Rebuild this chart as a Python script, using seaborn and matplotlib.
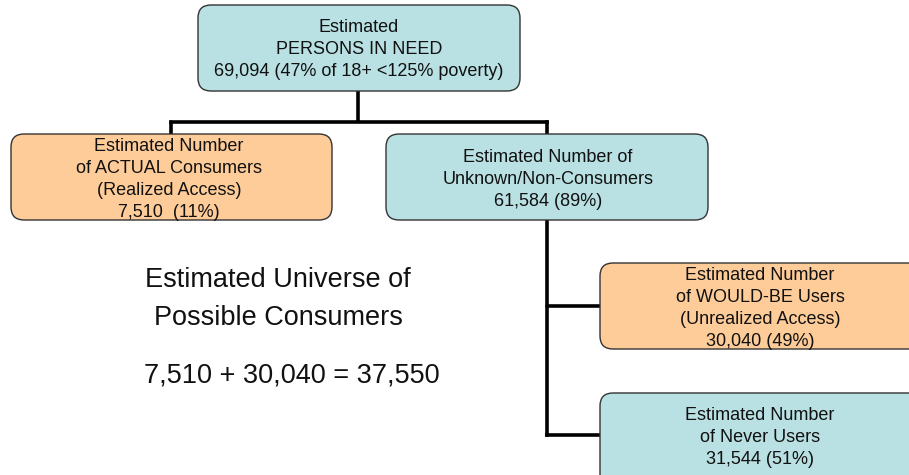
import matplotlib
matplotlib.use("Agg")
import matplotlib.pyplot as plt
from matplotlib.patches import FancyBboxPatch
import seaborn as sns

sns.set_theme(style="white")
plt.rcParams['font.family'] = ['Liberation Sans', 'DejaVu Sans']

# ---- data ----
node_titles = [
    ["Estimated", "PERSONS IN NEED"],
    ["Estimated Number", "of ACTUAL Consumers", "(Realized Access)"],
    ["Estimated Number of", "Unknown/Non-Consumers"],
    ["Estimated Number", "of WOULD-BE Users", "(Unrealized Access)"],
    ["Estimated Number", "of Never Users"],
]
node_values = ["69,094 (47% of 18+ <125% poverty)", "7,510  (11%)", "61,584 (89%)",
               "30,040 (49%)", "31,544 (51%)"]
node_kind = ["need", "access", "need", "access", "need"]
universe_title = ["Estimated Universe of", "Possible Consumers"]
universe_terms = ["7,510", "30,040"]
universe_total = "37,550"

# ---- layout (pixel space) ----
W, H = 909, 475
fig = plt.figure(figsize=(W / 100, H / 100), dpi=100)
ax = fig.add_axes([0, 0, 1, 1])
ax.set_xlim(0, W)
ax.set_ylim(H, 0)
ax.axis("off")

colors = {"need": "#b9e0e3", "access": "#fecc99"}
boxes = [  # x0, y0, x1, y1
    (198, 5, 520, 91),
    (11, 134, 332, 220),
    (386, 134, 708, 220),
    (600, 263, 930, 349),
    (600, 393, 930, 490),
]
# text center x, first baseline y
text_anchor = [(359, 32), (169, 151), (548, 162), (760, 280), (760, 420)]
line_step = 22

lw = 2.6
# connectors
ax.plot([358, 358], [91, 122], color="black", lw=lw, solid_capstyle="butt", zorder=1)
ax.plot([171, 547], [122, 122], color="black", lw=lw, solid_capstyle="projecting", zorder=1)
ax.plot([171, 171], [122, 134], color="black", lw=lw, zorder=1)
ax.plot([547, 547], [122, 435], color="black", lw=lw, solid_capstyle="projecting", zorder=1)
ax.plot([547, 600], [306, 306], color="black", lw=lw, zorder=1)
ax.plot([547, 600], [435, 435], color="black", lw=lw, solid_capstyle="projecting", zorder=1)

for (x0, y0, x1, y1), kind, title, val, (cx, by) in zip(boxes, node_kind, node_titles,
                                                          node_values, text_anchor):
    p = FancyBboxPatch((x0, y0), x1 - x0, y1 - y0,
                       boxstyle="round,pad=0,rounding_size=13",
                       facecolor=colors[kind], edgecolor="#333333", lw=1.0, zorder=2)
    ax.add_patch(p)
    for i, line in enumerate(title + [val]):
        ax.text(cx, by + i * line_step, line, ha="center", va="baseline", fontsize=13,
                color="#111111", zorder=3)

for i, line in enumerate(universe_title):
    ax.text(278, 287 + i * 38, line, ha="center", va="baseline", fontsize=19.5,
            color="#111111")
ax.text(292, 383, f"{universe_terms[0]} + {universe_terms[1]} = {universe_total}",
        ha="center", va="baseline", fontsize=19.5, color="#111111")

fig.savefig("out.png", dpi=100)
